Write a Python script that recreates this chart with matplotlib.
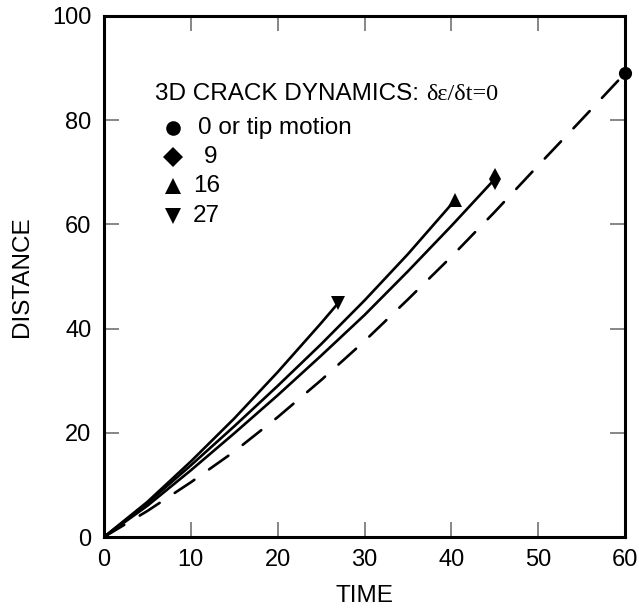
import matplotlib
matplotlib.use('Agg')
import matplotlib.pyplot as plt

# === DATA ===
time_0 = [0, 5, 10, 15, 20, 25, 30, 35, 40, 45, 50, 55, 60]
dist_0 = [0, 5.0, 10.5, 16.4, 23.0, 30.1, 37.6, 45.6, 53.8, 62.4, 71.3, 80.1, 89.0]

time_9 = [0, 5, 10, 15, 20, 25, 30, 35, 40, 45]
dist_9 = [0, 6.0, 12.8, 19.9, 27.2, 34.8, 42.6, 51.0, 59.7, 68.7]

time_16 = [0, 5, 10, 15, 20, 25, 30, 35, 40.4]
dist_16 = [0, 6.5, 13.75, 21.25, 29.0, 37.0, 45.4, 54.3, 64.6]

time_27 = [0, 5, 10, 15, 20, 25, 27]
dist_27 = [0, 6.75, 14.5, 22.75, 31.65, 41.05, 44.95]

labels = ['0 or tip motion', '9', '16', '27']
markers = ['o', 'D', '^', 'v']

# === STYLE ===
plt.rcParams['font.family'] = ['Liberation Sans', 'DejaVu Sans']
plt.rcParams['lines.scale_dashes'] = False
FS = 17.5
LW = 1.9

fig = plt.figure(figsize=(6.39, 6.10), dpi=100)
ax = fig.add_axes([104/639, 73/610, 521/639, 521/610])

# curves
ax.plot(time_0, dist_0, color='black', lw=LW, dashes=(17, 13), dash_capstyle='round')
ax.plot(time_0[-1], dist_0[-1], marker='o', ms=9.5, mew=0, color='black', clip_on=False)

ax.plot(time_9, dist_9, color='black', lw=LW, solid_capstyle='round')
ax.plot(time_9[-1], dist_9[-1], marker='d', ms=11, mew=0, color='black')

ax.plot(time_16, dist_16, color='black', lw=LW, solid_capstyle='round')
ax.plot(time_16[-1], dist_16[-1], marker='^', ms=9.5, mew=0, color='black')

ax.plot(time_27, dist_27, color='black', lw=LW, solid_capstyle='round')
ax.plot(time_27[-1], dist_27[-1], marker='v', ms=10, mew=0, color='black')

# axes
ax.set_xlim(0, 60)
ax.set_ylim(0, 100)
ax.set_xticks([0, 10, 20, 30, 40, 50, 60])
ax.set_yticks([0, 20, 40, 60, 80, 100])
for s in ax.spines.values():
    s.set_linewidth(2.2)
ax.tick_params(direction='in', length=11, width=1.1, color='#666666',
               top=True, right=True, labelsize=17, pad=9)

ax.set_xlabel('TIME', fontsize=FS)
ax.set_ylabel('DISTANCE', fontsize=FS)
ax.xaxis.set_label_coords(0.5, -0.093)
ax.yaxis.set_label_coords(-0.136, 0.5)

# legend drawn by hand
t1 = ax.text(0.098, 0.838, '3D CRACK DYNAMICS: ', transform=ax.transAxes,
             fontsize=FS, va='baseline', ha='left')
fig.canvas.draw()
bb = t1.get_window_extent().transformed(ax.transAxes.inverted())
ax.text(bb.x1, 0.838, 'δε/δt=0', transform=ax.transAxes, va='baseline', ha='left',
        fontsize=FS, family=['Liberation Serif', 'DejaVu Serif'])

leg_y = [0.785, 0.729, 0.673, 0.617]
leg_tx = [0.181, 0.192, 0.171, 0.171]
leg_ms = [10.5, 10.5, 11.5, 11.5]
for m, lab, y, tx, ms in zip(markers, labels, leg_y, leg_tx, leg_ms):
    ax.plot([0.1324], [y], marker=m, ms=ms, mew=0, color='black',
            transform=ax.transAxes, clip_on=False)
    ax.text(tx, y, lab, transform=ax.transAxes, fontsize=FS, va='center', ha='left')

fig.savefig('out.png', dpi=100)
